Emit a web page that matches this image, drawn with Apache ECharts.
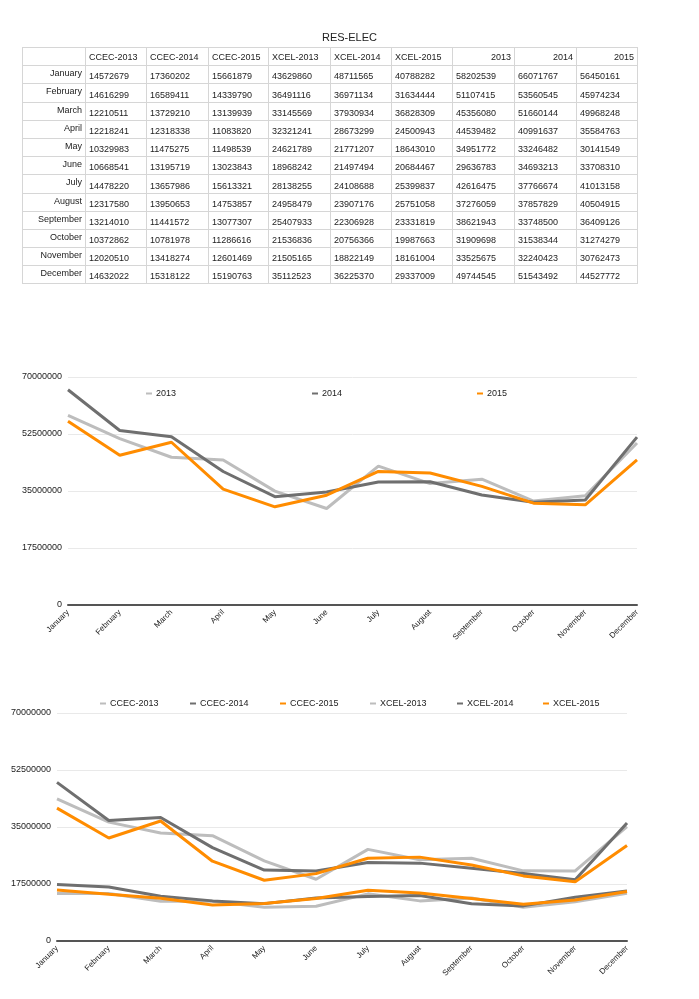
<!DOCTYPE html>
<html>
<head>
<meta charset="utf-8">
<script src="https://cdn.jsdelivr.net/npm/echarts@6/dist/echarts.min.js"></script>
<style>
html,body{margin:0;padding:0;background:#fff;width:699px;height:999px;overflow:hidden;font-family:"Liberation Sans",Arial,sans-serif;}
#chart{position:absolute;left:0;top:0;width:699px;height:999px;}
#title{position:absolute;left:0;width:699px;top:31px;text-align:center;font-size:11px;color:#222;}
#tbl{position:absolute;left:22px;top:47px;width:615px;table-layout:fixed;border-collapse:collapse;font-size:9px;color:#222;}
#tbl tr{height:18.2px;}
#tbl td,#tbl th{border:1px solid #d6d6d6;padding:0 3px;white-space:nowrap;overflow:hidden;line-height:10px;}
#tbl td.lab{text-align:right;vertical-align:top;padding-top:2px;}
#tbl td.num{text-align:left;vertical-align:bottom;padding-bottom:2px;}
#tbl th{font-weight:normal;text-align:left;vertical-align:middle;}
#tbl th.r{text-align:right;}
</style>
</head>
<body>
<div id="chart"></div>
<div id="title">RES-ELEC</div>
<table id="tbl"></table>
<script>
const months = ["January","February","March","April","May","June","July","August","September","October","November","December"];
const ccec2013 = [14572679,14616299,12210511,12218241,10329983,10668541,14478220,12317580,13214010,10372862,12020510,14632022];
const ccec2014 = [17360202,16589411,13729210,12318338,11475275,13195719,13657986,13950653,11441572,10781978,13418274,15318122];
const ccec2015 = [15661879,14339790,13139939,11083820,11498539,13023843,15613321,14753857,13077307,11286616,12601469,15190763];
const xcel2013 = [43629860,36491116,33145569,32321241,24621789,18968242,28138255,24958479,25407933,21536836,21505165,35112523];
const xcel2014 = [48711565,36971134,37930934,28673299,21771207,21497494,24108688,23907176,22306928,20756366,18822149,36225370];
const xcel2015 = [40788282,31634444,36828309,24500943,18643010,20684467,25399837,25751058,23331819,19987663,18161004,29337009];
const tot2013 = [58202539,51107415,45356080,44539482,34951772,29636783,42616475,37276059,38621943,31909698,33525675,49744545];
const tot2014 = [66071767,53560545,51660144,40991637,33246482,34693213,37766674,37857829,33748500,31538344,32240423,51543492];
const tot2015 = [56450161,45974234,49968248,35584763,30141549,33708310,41013158,40504915,36409126,31274279,30762473,44527772];
const yTicks = [0,17500000,35000000,52500000,70000000];

// Table
const cols = [
  {name:"CCEC-2013",d:ccec2013,r:false},{name:"CCEC-2014",d:ccec2014,r:false},{name:"CCEC-2015",d:ccec2015,r:false},
  {name:"XCEL-2013",d:xcel2013,r:false},{name:"XCEL-2014",d:xcel2014,r:false},{name:"XCEL-2015",d:xcel2015,r:false},
  {name:"2013",d:tot2013,r:true},{name:"2014",d:tot2014,r:true},{name:"2015",d:tot2015,r:true}
];
const colW = [63,61,62,60,62,61,61,62,62,61];
let html = '<colgroup>' + colW.map(w=>'<col style="width:'+w+'px">').join('') + '</colgroup>';
html += '<tr><th></th>';
cols.forEach(c=>{html += '<th class="'+(c.r?'r':'')+'">'+c.name+'</th>';});
html += '</tr>';
months.forEach((m,j)=>{
  html += '<tr><td class="lab">'+m+'</td>';
  cols.forEach(c=>{html += '<td class="num">'+c.d[j]+'</td>';});
  html += '</tr>';
});
document.getElementById('tbl').innerHTML = html;

const LG = '#bdbdbd', DG = '#6f6f6f', OR = '#ff8c00';
const chart = echarts.init(document.getElementById('chart'), null, {renderer:'canvas'});

function xAx(gi){
  return {type:'category', gridIndex:gi, data:months, boundaryGap:false,
    axisLine:{show:true, lineStyle:{color:'#555', width:2}}, axisTick:{show:false},
    axisLabel:{rotate:45, fontSize:8, color:'#222', margin:6, interval:0, fontFamily:'Liberation Sans'}};
}
function yAx(gi){
  return {type:'value', gridIndex:gi, min:yTicks[0], max:yTicks[yTicks.length-1], interval:yTicks[1]-yTicks[0],
    axisLine:{show:false}, axisTick:{show:false},
    splitLine:{lineStyle:{color:'#e9e9e9', width:1}},
    axisLabel:{fontSize:9, color:'#222', margin:6, fontFamily:'Liberation Sans', formatter:v=>String(v)}};
}
function ser(name, data, color, gi){
  return {name:name, type:'line', data:data, xAxisIndex:gi, yAxisIndex:gi, symbol:'none',
    lineStyle:{color:color, width:3}, itemStyle:{color:color}, smooth:false};
}
function leg(name, left, top){
  return {data:[name], left:left, top:top, icon:'rect', itemWidth:6, itemHeight:2, itemGap:0,
    textStyle:{fontSize:9, color:'#222', padding:[0,0,0,-1], fontFamily:'Liberation Sans'}, padding:0};
}

chart.setOption({
  animation:false,
  grid:[
    {left:68, right:62, top:377, height:228},
    {left:57, right:72, top:713, height:228}
  ],
  xAxis:[xAx(0), xAx(1)],
  yAxis:[yAx(0), yAx(1)],
  legend:[
    leg('2013',146,389), leg('2014',312,389), leg('2015',477,389),
    leg('CCEC-2013',100,699), leg('CCEC-2014',190,699), leg('CCEC-2015',280,699),
    leg('XCEL-2013',370,699), leg('XCEL-2014',457,699), leg('XCEL-2015',543,699)
  ],
  series:[
    ser('2013', tot2013, LG, 0), ser('2014', tot2014, DG, 0), ser('2015', tot2015, OR, 0),
    ser('CCEC-2013', ccec2013, LG, 1), ser('CCEC-2014', ccec2014, DG, 1), ser('CCEC-2015', ccec2015, OR, 1),
    ser('XCEL-2013', xcel2013, LG, 1), ser('XCEL-2014', xcel2014, DG, 1), ser('XCEL-2015', xcel2015, OR, 1)
  ]
});
</script>
</body>
</html>
